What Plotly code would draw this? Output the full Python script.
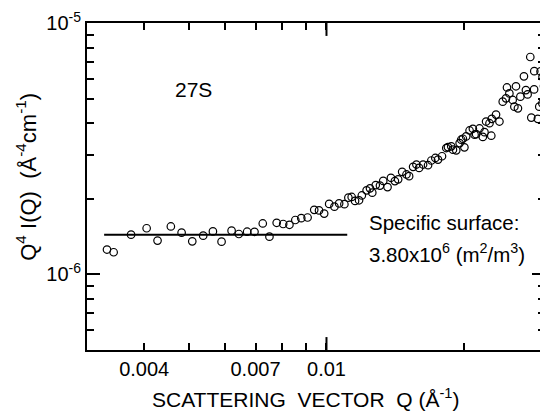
import math
import plotly.graph_objects as go

# Scattering vector Q (1/Angstrom)
q_values = [0.003317, 0.003430, 0.003744, 0.004049, 0.004277, 0.004573, 0.004827, 0.005093, 0.005380, 0.005650,
            0.005901, 0.006206, 0.006437, 0.006710, 0.006964, 0.007259, 0.007507, 0.007785, 0.008044, 0.008301,
            0.008550, 0.008810, 0.009094, 0.009403, 0.009632, 0.009885, 0.010136, 0.010408, 0.010656, 0.010943,
            0.011164, 0.011350, 0.011545, 0.011779, 0.011945, 0.012235, 0.012445, 0.012589, 0.012811, 0.013084,
            0.013302, 0.013593, 0.013826, 0.014104, 0.014339, 0.014630, 0.014949, 0.015151, 0.015458, 0.015717,
            0.015931, 0.016253, 0.016663, 0.016941, 0.017284, 0.017520, 0.017875, 0.018262, 0.018418, 0.018726,
            0.018886, 0.019202, 0.019532, 0.019686, 0.019855, 0.020006, 0.020184, 0.020532, 0.020875, 0.021054,
            0.021219, 0.021584, 0.021945, 0.022131, 0.022310, 0.022693, 0.022956, 0.022900, 0.023453, 0.023857,
            0.024256, 0.024660, 0.024782, 0.025081, 0.025501, 0.025719, 0.025927, 0.026185, 0.026506, 0.026986,
            0.027255, 0.027489, 0.027861, 0.028003, 0.028424, 0.028400, 0.028940, 0.029147, 0.029336, 0.029628,
            0.029600, 0.029854]

# Q^4 I(Q) in units of 1e-6 A^-4 cm^-1
q4i_values = [1.256, 1.225, 1.439, 1.527, 1.363, 1.552, 1.466, 1.354, 1.426, 1.483,
              1.350, 1.493, 1.448, 1.479, 1.478, 1.595, 1.413, 1.605, 1.587, 1.576,
              1.647, 1.675, 1.685, 1.807, 1.798, 1.747, 1.908, 1.861, 1.917, 1.903,
              2.021, 2.034, 1.961, 1.973, 2.062, 2.162, 2.201, 2.115, 2.268, 2.258,
              2.357, 2.227, 2.425, 2.353, 2.390, 2.560, 2.500, 2.462, 2.680, 2.738,
              2.655, 2.738, 2.721, 2.841, 2.908, 2.866, 2.954, 3.185, 3.214, 3.235,
              3.138, 3.119, 3.333, 3.438, 3.469, 3.205, 3.543, 3.742, 3.800, 3.598,
              3.618, 3.811, 3.526, 3.685, 4.061, 3.999, 4.163, 3.566, 4.329, 4.061,
              4.873, 5.022, 5.550, 5.254, 4.949, 4.656, 5.611, 4.585, 5.100, 6.145,
              5.420, 5.206, 7.338, 4.212, 6.444, 5.450, 4.163, 4.656, 6.432, 6.118,
              4.797, 5.611]
unit = 1e-6

# Porod plateau fit
fit_q = [0.00327, 0.0111]
fit_level = 1.44e-6

x_tick_vals = [0.004, 0.007, 0.01]
x_tick_text = ["0.004", "0.007", "0.01"]
x_minor_vals = [0.005, 0.006, 0.008, 0.009, 0.02]
y_tick_vals = [1e-6, 1e-5]
y_tick_text = ["10<sup>-6</sup>", "10<sup>-5</sup>"]
y_minor_vals = [6e-7, 7e-7, 8e-7, 9e-7, 2e-6, 3e-6, 4e-6, 5e-6, 6e-6, 7e-6, 8e-6, 9e-6]

FONT = "Liberation Sans, Arial, Helvetica, sans-serif"

fig = go.Figure()
fig.add_trace(go.Scatter(
    x=fit_q, y=[fit_level, fit_level], mode="lines",
    line=dict(color="black", width=2), showlegend=False, hoverinfo="skip"))
fig.add_trace(go.Scatter(
    x=q_values, y=[v * unit for v in q4i_values], mode="markers",
    marker=dict(symbol="circle-open", size=7.5, color="black", line=dict(width=1.2)),
    showlegend=False))

axis_common = dict(
    type="log", showline=True, linecolor="black", linewidth=2, mirror="ticks",
    ticks="inside", tickcolor="black", tickwidth=2, showgrid=False, zeroline=False,
    tickfont=dict(family=FONT, size=20, color="black"), ticklabeloverflow="allow",
)

fig.update_xaxes(
    **axis_common,
    range=[math.log10(0.003), math.log10(0.03)],
    tickmode="array", tickvals=x_tick_vals, ticktext=x_tick_text, ticklen=7,
    minor=dict(ticks="inside", tickvals=x_minor_vals, ticklen=7, tickwidth=2, tickcolor="black"),
)
fig.update_yaxes(
    **axis_common,
    range=[math.log10(5e-7), -4.999],
    tickmode="array", tickvals=y_tick_vals, ticktext=y_tick_text, ticklen=13,
    minor=dict(ticks="inside", tickvals=y_minor_vals, ticklen=7, tickwidth=2, tickcolor="black"),
)

# longer major tick at Q = 0.01 (bottom and top)
for y0, y1 in [(0, 13 / 329), (1, 1 - 13 / 329)]:
    fig.add_shape(type="line", xref="x", yref="paper", x0=0.01, x1=0.01, y0=y0, y1=y1,
                  line=dict(color="black", width=2))

ann_font = dict(family=FONT, size=20, color="black")
fig.add_annotation(text="27S", xref="paper", yref="paper", x=0.233, y=0.797,
                   xanchor="center", yanchor="middle",
                   showarrow=False, font=dict(family=FONT, size=21, color="black"))
fig.add_annotation(text="Specific surface:", xref="paper", yref="paper", x=0.611, y=0.389,
                   xanchor="left", yanchor="middle", showarrow=False,
                   font=dict(family=FONT, size=20.5, color="black"))
fig.add_annotation(text="3.80x10<sup>6</sup> (m<sup>2</sup>/m<sup>3</sup>)", xref="paper", yref="paper",
                   x=0.611, y=0.296, xanchor="left", yanchor="middle", showarrow=False,
                   font=dict(family=FONT, size=20.5, color="black"))
fig.add_annotation(text="SCATTERING  VECTOR  Q (Å<sup>-1</sup>)", xref="paper", yref="paper",
                   x=0.478, y=-0.146, xanchor="center", yanchor="middle", showarrow=False,
                   font=dict(family=FONT, size=21, color="black"))
fig.add_annotation(text="Q<sup>4</sup> I(Q)  (Å<sup>-4</sup>cm<sup>-1</sup>)", xref="paper", yref="paper",
                   x=-0.133, y=0.53, xanchor="center", yanchor="middle", textangle=-90,
                   showarrow=False, font=dict(family=FONT, size=22, color="black"))

fig.update_layout(
    width=540, height=408,
    margin=dict(l=79, r=1, t=13, b=66),
    paper_bgcolor="white", plot_bgcolor="white",
    font=dict(family=FONT, color="black"),
    showlegend=False,
)

fig.write_html("out.html")
